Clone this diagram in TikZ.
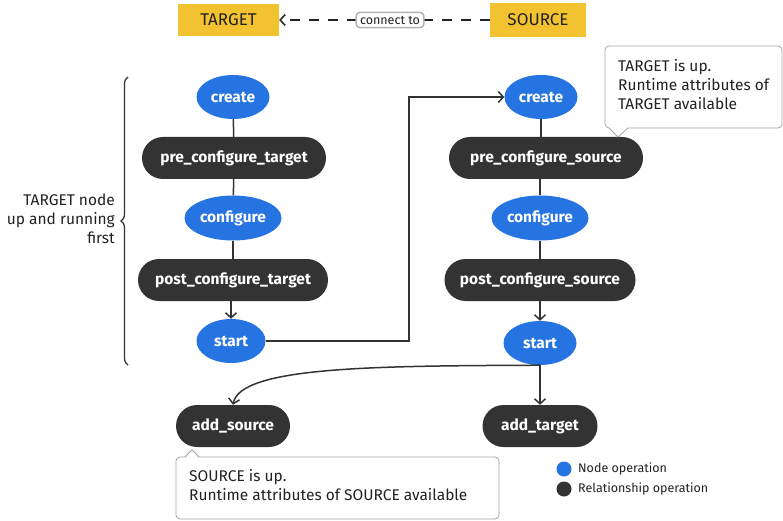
\documentclass[tikz,border=0pt]{standalone}
\usepackage{fontspec}
\setmainfont{Fira Sans}
\usetikzlibrary{shapes.geometric,shapes.misc,arrows.meta,decorations.pathreplacing}
\definecolor{opblue}{HTML}{2673E2}
\definecolor{reldark}{HTML}{333333}
\definecolor{tagyellow}{HTML}{F2C230}
\definecolor{inkc}{HTML}{222222}
\tikzset{
  nodeop/.style={ellipse, fill=opblue, text=white, font=\fontsize{15.5}{17}\selectfont\bfseries, inner sep=0pt},
  relop/.style={rectangle, rounded corners=21pt, fill=reldark, text=white, font=\fontsize{15.5}{17}\selectfont\bfseries, minimum height=42pt, inner sep=0pt},
  conn/.style={draw=reldark, line width=1.5pt},
  arr/.style={conn, -{Straight Barb[length=5pt,width=11pt,line width=1.5pt]}},
  tag/.style={fill=tagyellow, text=inkc, font=\fontsize{17}{19}\selectfont, minimum height=32pt},
  callout/.style={draw=gray!70, line width=0.8pt, fill=white, rounded corners=4pt},
  calltext/.style={text=inkc, font=\fontsize{15.5}{19}\selectfont, align=left, anchor=north west, inner sep=0pt},
}
\begin{document}
\begin{tikzpicture}[x=1pt,y=-1pt]
\path[use as bounding box] (0,0) rectangle (783,521);
% top
\node[tag, minimum width=101pt] (tgt) at (228.5,20) {TARGET};
\node[tag, minimum width=96pt, minimum height=34pt] (src) at (538,20) {SOURCE};
\draw[draw=inkc, line width=1.5pt, dash pattern=on 10pt off 9pt, -{Straight Barb[length=5pt,width=11pt,line width=1.5pt]}] (src.west) -- (tgt.east)
  node[pos=0.474, fill=white, draw=gray!60, rounded corners=4pt, text=inkc, font=\fontsize{12.5}{13}\selectfont, inner xsep=4pt, inner ysep=3.5pt, solid] (ct) {connect to};
% left column
\node[nodeop, minimum width=73pt, minimum height=44pt] (c1) at (233,97) {create};
\node[relop, minimum width=184pt] (p1) at (234,158) {pre\_configure\_target};
\node[nodeop, minimum width=97pt, minimum height=45pt] (g1) at (233,218) {configure};
\node[relop, minimum width=190pt] (q1) at (233,280) {post\_configure\_target};
\node[nodeop, minimum width=69pt, minimum height=44pt] (s1) at (231,341) {start};
\draw[conn] (c1) -- (p1);
\draw[conn] (p1) -- (g1);
\draw[conn] (g1) -- (q1);
\draw[arr] (q1.south -| s1.north) -- (s1.north);
% right column
\node[nodeop, minimum width=73pt, minimum height=44pt] (c2) at (541,97) {create};
\node[relop, minimum width=194pt] (p2) at (546,158) {pre\_configure\_source};
\node[nodeop, minimum width=97pt, minimum height=45pt] (g2) at (540,218) {configure};
\node[relop, minimum width=191pt] (q2) at (540,280) {post\_configure\_source};
\node[nodeop, minimum width=73pt, minimum height=44pt] (s2) at (540,343) {start};
\draw[conn] (c2.south) -- (c2.south |- p2.north);
\draw[conn] (p2.south -| g2.north) -- (g2.north);
\draw[conn] (g2) -- (q2);
\draw[arr] (q2.south -| s2.north) -- (s2.north);
% cross link
\coordinate (bend1) at (409,341);
\coordinate (bend2) at (409,97);
\draw[arr] (s1.east) -- (bend1) -- (bend2) -- (c2.west);
% bottom
\node[relop, minimum width=114pt] (as) at (233,426) {add\_source};
\node[relop, minimum width=115pt] (at) at (540,426) {add\_target};
\draw[arr] (s2.south) -- (at.north);
\draw[arr] (s2.south) .. controls (380,366) and (240,366) .. (as.north);
% brace
\draw[draw=reldark, line width=1.2pt, decorate, decoration={brace, amplitude=7pt}] (128,365) -- (128,77) coordinate (brtop);
\node[text=inkc, font=\fontsize{15.5}{19}\selectfont, align=right, anchor=east, inner sep=0pt] (brl) at (115,219) {TARGET node\\up and running\\first};
% callouts
\draw[callout] (605,46) rectangle (782,128);
\fill[white] (609,127) -- (618,137) -- (628,127) -- cycle;
\draw[draw=gray!70, line width=0.8pt] (609,128) -- (618,137) -- (628,128);
\node[calltext] (ca) at (618,59) {TARGET is up.\\Runtime attributes of\\TARGET available};
\draw[callout] (176,457) rectangle (499,519);
\fill[white] (185,458) -- (192,450) -- (199,458) -- cycle;
\draw[draw=gray!70, line width=0.8pt] (185,457) -- (192,450) -- (199,457);
\node[calltext] (cb) at (189,469) {SOURCE is up.\\Runtime attributes of SOURCE available};
% legend
\fill[opblue] (564,469) circle (7.5pt);
\fill[reldark] (564,489) circle (7.5pt);
\node[text=inkc, font=\fontsize{12.5}{14}\selectfont, anchor=west, inner sep=0pt] (l1) at (578,469) {Node operation};
\node[text=inkc, font=\fontsize{12.5}{14}\selectfont, anchor=west, inner sep=0pt] (l2) at (578,489) {Relationship operation};
\end{tikzpicture}
\end{document}
